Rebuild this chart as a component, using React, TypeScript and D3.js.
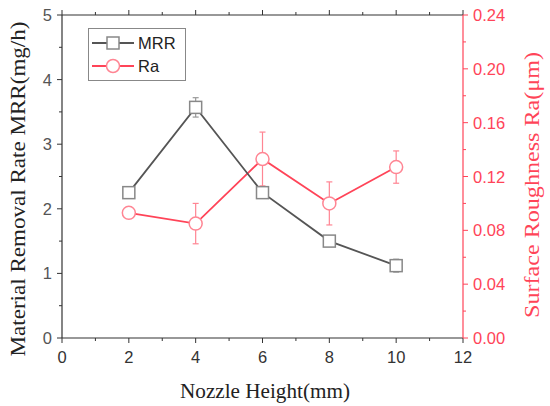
import React from 'react';
import * as d3 from 'd3';

const heights = [2, 4, 6, 8, 10];
const mrr = [2.25, 3.57, 2.25, 1.5, 1.12];
const mrrErr = [0.03, 0.15, 0.04, 0.07, 0.1];
const ra = [0.093, 0.085, 0.133, 0.1, 0.127];
const raErr = [0.004, 0.015, 0.02, 0.016, 0.012];
const xTicks = [0, 2, 4, 6, 8, 10, 12];
const yLeftTicks = [0, 1, 2, 3, 4, 5];
const yRightTicks = [0, 0.04, 0.08, 0.12, 0.16, 0.2, 0.24];

const W = 550;
const H = 406;
const m = { left: 62, right: 463, top: 15, bottom: 338 };

const gray = '#555';
const red = '#ff4458';
const pink = '#ff8593';
const serif = "'Times New Roman', 'Liberation Serif'";
const sans = "Arial, 'Liberation Sans'";

export default () => {
  const x = d3.scaleLinear().domain([0, 12]).range([m.left, m.right]);
  const yL = d3.scaleLinear().domain([0, 5]).range([m.bottom, m.top]);
  const yR = d3.scaleLinear().domain([0, 0.24]).range([m.bottom, m.top]);

  const lineL = d3.line<number>().x((_, i) => x(heights[i])).y(d => yL(d));
  const lineR = d3.line<number>().x((_, i) => x(heights[i])).y(d => yR(d));

  const xMinor = d3.range(1, 12, 2);
  const yLMinor = d3.range(0.5, 5, 1);
  const yRMinor = d3.range(0.02, 0.24, 0.04);

  return (
    <svg width={W} height={H} style={{ position: 'absolute', left: 0, top: 0, background: '#fff' }}>
      {/* frame */}
      <line x1={m.left} x2={m.right} y1={m.top} y2={m.top} stroke="#333" strokeWidth={1.2} />
      <line x1={m.left} x2={m.right} y1={m.bottom} y2={m.bottom} stroke="#333" strokeWidth={1.2} />
      <line x1={m.left} x2={m.left} y1={m.top} y2={m.bottom} stroke="#333" strokeWidth={1.2} />
      <line x1={m.right} x2={m.right} y1={m.top} y2={m.bottom} stroke={red} strokeWidth={1.2} />

      {/* x ticks */}
      {xTicks.map(t => (
        <g key={'x' + t}>
          <line x1={x(t)} x2={x(t)} y1={m.bottom} y2={m.bottom + 5} stroke="#333" />
          <line x1={x(t)} x2={x(t)} y1={m.top} y2={m.top - 5} stroke="#333" />
          <text x={x(t)} y={m.bottom + 25} textAnchor="middle" fontFamily={sans} fontSize={16.5} fill="#333">{t}</text>
        </g>
      ))}
      {xMinor.map(t => (
        <g key={'xm' + t}>
          <line x1={x(t)} x2={x(t)} y1={m.bottom} y2={m.bottom + 3} stroke="#333" />
          <line x1={x(t)} x2={x(t)} y1={m.top} y2={m.top - 3} stroke="#333" />
        </g>
      ))}

      {/* left ticks */}
      {yLeftTicks.map(t => (
        <g key={'yl' + t}>
          <line x1={m.left} x2={m.left - 5} y1={yL(t)} y2={yL(t)} stroke="#333" />
          <text x={m.left - 10} y={yL(t) + 6} textAnchor="end" fontFamily={sans} fontSize={16.5} fill={gray}>{t}</text>
        </g>
      ))}
      {yLMinor.map(t => (
        <line key={'ylm' + t} x1={m.left} x2={m.left - 3} y1={yL(t)} y2={yL(t)} stroke="#333" />
      ))}

      {/* right ticks */}
      {yRightTicks.map(t => (
        <g key={'yr' + t}>
          <line x1={m.right} x2={m.right + 5} y1={yR(t)} y2={yR(t)} stroke={red} />
          <text x={m.right + 10} y={yR(t) + 6} textAnchor="start" fontFamily={sans} fontSize={16.5} fill={red}>{t.toFixed(2)}</text>
        </g>
      ))}
      {yRMinor.map(t => (
        <line key={'yrm' + t} x1={m.right} x2={m.right + 3} y1={yR(t)} y2={yR(t)} stroke={red} />
      ))}

      {/* axis titles */}
      <text x={265} y={398} textAnchor="middle" fontFamily={serif} fontSize={21} textLength={170} lengthAdjust="spacingAndGlyphs" fill="#222">Nozzle Height(mm)</text>
      <text transform="translate(25,189) rotate(-90)" textAnchor="middle" fontFamily={serif} fontSize={22} textLength={335} lengthAdjust="spacingAndGlyphs" fill="#222">Material Removal Rate MRR(mg/h)</text>
      <text transform="translate(539,185) rotate(-90)" textAnchor="middle" fontFamily={serif} fontSize={22} textLength={266} lengthAdjust="spacingAndGlyphs" fill={red}>Surface Roughness Ra(μm)</text>

      {/* Ra series */}
      {ra.map((v, i) => (
        <g key={'rae' + i} stroke={pink} strokeWidth={1.2}>
          <line x1={x(heights[i])} x2={x(heights[i])} y1={yR(v - raErr[i])} y2={yR(v + raErr[i])} />
          <line x1={x(heights[i]) - 3} x2={x(heights[i]) + 3} y1={yR(v - raErr[i])} y2={yR(v - raErr[i])} />
          <line x1={x(heights[i]) - 3} x2={x(heights[i]) + 3} y1={yR(v + raErr[i])} y2={yR(v + raErr[i])} />
        </g>
      ))}
      <path d={lineR(ra) || ''} fill="none" stroke={red} strokeWidth={1.8} />
      {ra.map((v, i) => (
        <circle key={'rac' + i} cx={x(heights[i])} cy={yR(v)} r={6.5} fill="#fff" stroke={pink} strokeWidth={1.5} />
      ))}

      {/* MRR series */}
      {mrr.map((v, i) => (
        <g key={'me' + i} stroke="#999" strokeWidth={1.2}>
          <line x1={x(heights[i])} x2={x(heights[i])} y1={yL(v - mrrErr[i])} y2={yL(v + mrrErr[i])} />
          <line x1={x(heights[i]) - 3} x2={x(heights[i]) + 3} y1={yL(v - mrrErr[i])} y2={yL(v - mrrErr[i])} />
          <line x1={x(heights[i]) - 3} x2={x(heights[i]) + 3} y1={yL(v + mrrErr[i])} y2={yL(v + mrrErr[i])} />
        </g>
      ))}
      <path d={lineL(mrr) || ''} fill="none" stroke={gray} strokeWidth={1.8} />
      {mrr.map((v, i) => (
        <rect key={'ms' + i} x={x(heights[i]) - 6} y={yL(v) - 6} width={12} height={12} fill="#fff" stroke="#888" strokeWidth={1.5} />
      ))}

      {/* legend */}
      <rect x={88.5} y={28.5} width={97} height={52} fill="#fff" stroke="#888" strokeWidth={1} />
      <line x1={92} x2={134} y1={43} y2={43} stroke={gray} strokeWidth={1.8} />
      <rect x={107} y={37} width={12} height={12} fill="#fff" stroke="#888" strokeWidth={1.5} />
      <text x={138} y={49} fontFamily={sans} fontSize={16.5} fill="#222">MRR</text>
      <line x1={92} x2={134} y1={66} y2={66} stroke={red} strokeWidth={1.8} />
      <circle cx={113} cy={66} r={6.5} fill="#fff" stroke={pink} strokeWidth={1.5} />
      <text x={138} y={72} fontFamily={sans} fontSize={16.5} fill="#222">Ra</text>
    </svg>
  );
};
